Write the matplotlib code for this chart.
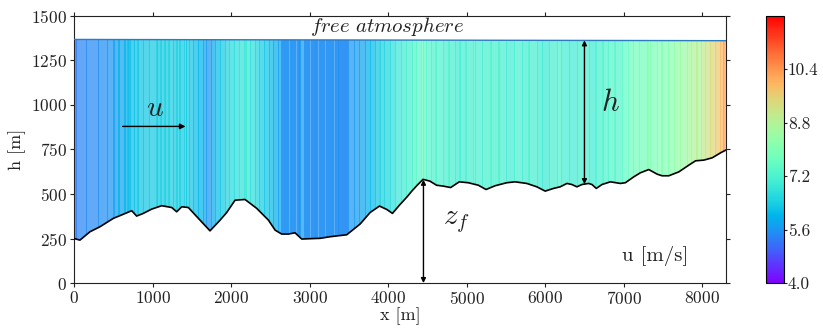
import numpy as np
import matplotlib
matplotlib.use('Agg')
import matplotlib.pyplot as plt
from matplotlib.patches import Polygon
from matplotlib.colors import Normalize
from matplotlib.cm import ScalarMappable

plt.rcParams['font.family'] = 'serif'
plt.rcParams['font.serif'] = ['cmr10']
plt.rcParams['mathtext.fontset'] = 'cm'
plt.rcParams['axes.formatter.use_mathtext'] = True

# ---------------- data ----------------
x_terrain = [0, 76, 204, 331, 501, 671, 735, 798, 883, 990, 1117, 1244, 1308, 1372,
             1456, 1584, 1732, 1860, 1945, 2051, 2178, 2327, 2476, 2561, 2645, 2730,
             2815, 2900, 3006, 3133, 3261, 3473, 3643, 3771, 3890, 3983, 4055, 4150,
             4240, 4300, 4368, 4445, 4532, 4617, 4702, 4796, 4906, 5021, 5149, 5247,
             5362, 5511, 5617, 5766, 5894, 6000, 6106, 6191, 6277, 6340, 6404, 6468,
             6553, 6596, 6651, 6723, 6830, 6957, 7021, 7128, 7213, 7319, 7426, 7489,
             7574, 7702, 7830, 7915, 8021, 8128, 8234, 8300]
z_terrain = [250, 241, 288, 316, 363, 394, 406, 376, 391, 415, 434, 424, 400, 428,
             424, 363, 293, 353, 396, 465, 469, 419, 353, 297, 275, 275,
             282, 247, 249, 251, 260, 271, 331, 396, 432, 413, 391, 440,
             483, 515, 548, 582, 572, 549, 544, 536, 568, 563, 549, 525,
             546, 563, 568, 559, 540, 516, 531, 540, 559, 553, 540, 553,
             559, 553, 531, 553, 568, 559, 563, 596, 619, 637, 611, 602,
             602, 624, 662, 686, 690, 703, 731, 746]

x_top = [0, 8300]
z_top = [1367, 1360]

# velocity samples: start of each strip and its u [m/s]
x_u = [0, 25, 150, 300, 420, 500, 515, 560, 575, 640, 655, 680, 692, 704, 716, 760,
       800, 812, 880, 960, 1040, 1052, 1100, 1112, 1150, 1162, 1200, 1212, 1260,
       1300, 1312, 1340, 1352, 1400, 1420, 1432, 1460, 1520, 1580, 1640, 1680,
       1740, 1800, 1860, 1920, 1980, 2040, 2100, 2160, 2172, 2184, 2240, 2300,
       2360, 2420, 2480, 2540, 2600,
       2640, 2652, 2664, 2676, 2688, 2700, 2712, 2724, 2750, 2762, 2774, 2786,
       2798, 2810, 2835, 2847, 2859, 2871, 2883,
       2930, 2942, 2954, 2966, 2978, 2990, 3015, 3027, 3039, 3051, 3063, 3075,
       3087, 3099, 3125, 3137, 3149, 3161, 3173, 3185, 3210, 3222, 3234, 3246,
       3258, 3270, 3282, 3294, 3320, 3332, 3344, 3356, 3368, 3380, 3392, 3404,
       3416, 3428, 3440, 3452, 3464, 3476,
       3490, 3560, 3630, 3700, 3770, 3830, 3880, 3892, 3950, 4020, 4090, 4160,
       4230, 4300, 4360, 4420, 4440, 4480, 4550, 4600, 4612, 4700, 4760, 4772,
       4850, 4900, 4912, 4980, 4992, 5080, 5100, 5112, 5200, 5300, 5312, 5400,
       5412, 5500, 5600, 5700, 5780, 5792, 5900, 5960, 6050, 6150, 6200, 6300,
       6400, 6500, 6560, 6640, 6652, 6720, 6732, 6800, 6880, 6892, 6980,
       7050, 7120, 7200, 7300, 7312, 7340, 7420, 7480, 7492, 7560, 7640, 7720,
       7800, 7860, 7920, 7932, 7980, 8040, 8100, 8160, 8220, 8270]
u_vals = [5.0, 5.4, 5.45, 5.5, 5.6, 5.8, 5.7, 5.95, 5.8, 6.05, 5.95, 6.2, 6.05, 6.3, 6.15, 6.2,
          6.4, 6.25, 6.3, 6.35, 6.45, 6.3, 6.5, 6.35, 6.5, 6.35, 6.55, 6.4, 6.35,
          6.5, 6.4, 6.55, 6.35, 6.45, 6.55, 6.35, 6.25, 6.15, 6.0, 5.8, 5.65,
          5.9, 6.15, 6.35, 6.5, 6.6, 6.7, 6.8, 6.9, 7.05, 6.85, 6.7, 6.55,
          6.4, 6.25, 6.1, 5.9, 5.75,
          5.6, 5.55, 5.6, 5.5, 5.55, 5.6, 5.5, 5.55, 5.6, 5.5, 5.55, 5.6,
          5.5, 5.55, 5.6, 5.5, 5.55, 5.5, 5.7,
          5.5, 5.5, 5.55, 5.5, 5.5, 5.55, 5.5, 5.5, 5.55, 5.5, 5.5, 5.55,
          5.5, 5.5, 5.55, 5.5, 5.5, 5.55, 5.5, 5.5, 5.55, 5.5, 5.5, 5.55,
          5.5, 5.5, 5.55, 5.5, 5.5, 5.55, 5.5, 5.5, 5.45, 5.5, 5.5, 5.45,
          5.5, 5.5, 5.45, 5.5, 5.45, 5.5,
          5.6, 5.7, 5.8, 5.95, 6.1, 6.3, 6.7, 6.45, 6.55, 6.7, 6.85, 7.0,
          7.1, 7.25, 7.4, 7.65, 7.45, 7.3, 7.2, 7.4, 7.2, 7.1, 7.3, 7.1,
          7.0, 7.2, 7.05, 7.3, 7.1, 7.2, 7.35, 7.15, 7.1, 7.3, 7.1, 7.25,
          7.1, 7.0, 7.15, 7.05, 7.3, 7.1, 7.0, 6.95, 7.1, 7.2, 7.05, 7.0,
          7.1, 7.15, 7.0, 7.3, 7.15, 7.4, 7.2, 7.3, 7.45, 7.3, 7.5,
          7.7, 7.8, 7.75, 7.95, 8.2, 7.9, 8.0, 8.2, 8.0, 8.15, 8.3, 8.45,
          8.6, 8.75, 8.9, 8.7, 9.0, 9.2, 9.45, 9.7, 9.95, 10.3]
x_end = 8300

u_min, u_max = 4.0, 12.0
cbar_ticks = [4.0, 5.6, 7.2, 8.8, 10.4]
x_ticks = [0, 1000, 2000, 3000, 4000, 5000, 6000, 7000, 8000]
y_ticks = [0, 250, 500, 750, 1000, 1250, 1500]

# ---------------- figure ----------------
fig = plt.figure(figsize=(8.23, 3.28), dpi=100)
ax = fig.add_axes([0.0899, 0.137, 0.792, 0.815])
cax = fig.add_axes([0.9307, 0.137, 0.0216, 0.815])

cmap = plt.get_cmap('rainbow')
norm = Normalize(u_min, u_max)
edges = np.append(np.array(x_u, float), x_end)
widths = np.diff(edges)
colors = cmap(norm(np.array(u_vals)))

bars = ax.bar(x_u, max(z_top), width=widths, align='edge', color=colors,
              edgecolor=colors, linewidth=0.55, alpha=0.72, zorder=1)
poly_xy = np.column_stack([np.r_[x_terrain, x_top[::-1]], np.r_[z_terrain, z_top[::-1]]])
clip = Polygon(poly_xy, closed=True, transform=ax.transData)
for b in bars:
    b.set_clip_path(clip)

ax.plot(x_top, z_top, color='#2c7cc4', lw=1.0, zorder=3)
ax.plot(x_terrain, z_terrain, color='k', lw=1.2, zorder=4)

tc = '#222222'
# flow arrow and labels
ax.annotate('', xy=(1420, 879), xytext=(620, 879),
            arrowprops=dict(arrowstyle='-|>', color='k', lw=1.0, mutation_scale=8,
                            shrinkA=0, shrinkB=0), zorder=5)
ax.text(1030, 975, r'$u$', fontsize=21, ha='center', va='center', color=tc)
ax.annotate('', xy=(6500, 1362), xytext=(6500, 555),
            arrowprops=dict(arrowstyle='<|-|>', color='k', lw=1.0, mutation_scale=7,
                            shrinkA=0, shrinkB=0), zorder=5)
ax.text(6830, 1010, r'$h$', fontsize=22, ha='center', va='center', color=tc)
ax.annotate('', xy=(4450, 580), xytext=(4450, 0),
            arrowprops=dict(arrowstyle='<|-|>', color='k', lw=1.0, mutation_scale=7,
                            shrinkA=0, shrinkB=0), zorder=5)
ax.text(4870, 345, r'$z_f$', fontsize=21, ha='center', va='center', color=tc)
ax.text(7400, 150, 'u [m/s]', fontsize=15, ha='center', va='center', color=tc)
ax.text(3990, 1437, r'$\mathit{free\ atmosphere}$', fontsize=15, ha='center',
        va='center', color=tc)

ax.set_xlim(0, 8300)
ax.set_ylim(0, 1500)
ax.set_xticks(x_ticks)
ax.set_yticks(y_ticks)
ax.tick_params(direction='out', top=True, right=True, length=3, width=0.8,
               labelsize=12.5, colors=tc, pad=2)
for s in ax.spines.values():
    s.set_linewidth(0.8)
    s.set_color('#222222')
ax.set_xlabel('x [m]', fontsize=13, color=tc, labelpad=0)
ax.set_ylabel('h [m]', fontsize=13, color=tc, labelpad=4)

cb = fig.colorbar(ScalarMappable(norm=norm, cmap=cmap), cax=cax, ticks=cbar_ticks)
cb.ax.set_yticklabels(['%.1f' % t for t in cbar_ticks])
cb.ax.tick_params(labelsize=12.5, colors=tc, length=2, width=0.8, pad=1)
cb.outline.set_linewidth(0.8)

fig.savefig('out.png', dpi=100)
